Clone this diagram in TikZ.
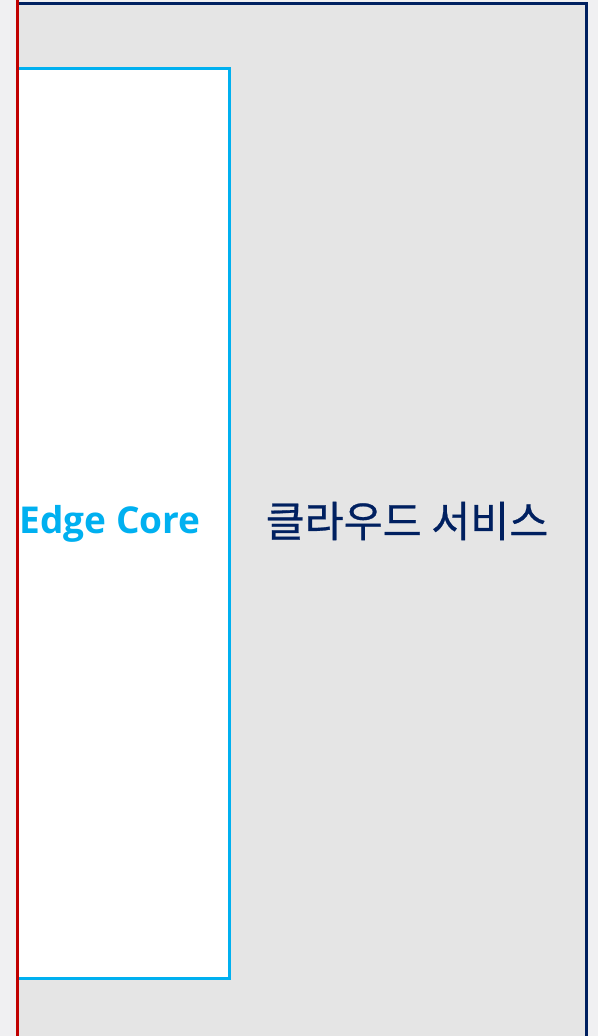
\documentclass[tikz,border=0pt]{standalone}
\usepackage{fontspec}
\setmainfont{Open Sans}
\newfontfamily\krfont{Noto Sans CJK KR}[FakeBold=0.6]
\definecolor{bgc}{HTML}{F0F0F2}
\definecolor{panel}{HTML}{E5E5E5}
\definecolor{navy}{HTML}{002060}
\definecolor{cyanc}{HTML}{00B0F0}
\definecolor{redc}{HTML}{C00000}
\tikzset{
  outerbox/.style={fill=panel, draw=navy, line width=2.5pt},
  corebox/.style={fill=white, draw=cyanc, line width=2.5pt},
  corelabel/.style={text=cyanc, font=\bfseries\fontsize{37}{44}\selectfont, inner sep=0pt},
  cloudlabel/.style={text=navy, font=\krfont\fontsize{42.4}{50}\selectfont, inner sep=0pt},
  redline/.style={draw=redc, line width=3pt}
}
\begin{document}
\begin{tikzpicture}[x=1pt,y=-1pt]
\useasboundingbox (0,0) rectangle (598,1036);
\fill[bgc] (0,0) rectangle (598,1036);
\draw[outerbox] (17,3.5) rectangle (586.5,1045);
\draw[corebox] (18,68.5) rectangle (229.5,978.5);
\node[corelabel] (core) at (110,524) {Edge Core};
\node[cloudlabel] (cloud) at (407,521) {클라우드 서비스};
\coordinate (rtop) at (17,0);
\coordinate (rbot) at (17,1036);
\draw[redline] (rtop) -- (rbot);
\end{tikzpicture}
\end{document}
